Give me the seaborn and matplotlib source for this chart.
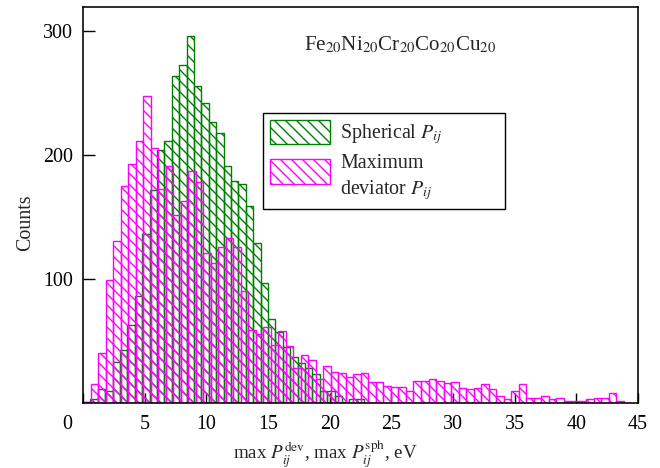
import numpy as np
import pandas as pd
import matplotlib
matplotlib.use("Agg")
import matplotlib.pyplot as plt
import matplotlib.transforms as mtransforms
from matplotlib.patches import Patch
from matplotlib.legend_handler import HandlerPatch
import seaborn as sns

# ---- data ----
sph_start = 0.0      # eV, left edge of first "spherical" bin
sph_width = 0.600    # eV, bin width
sph_counts = [1, 3, 11, 10, 33, 43, 63, 86, 136, 172,
              204, 211, 264, 273, 296, 256, 242, 227, 218, 191,
              179, 177, 159, 129, 97, 68, 57, 45, 37, 32,
              28, 23, 10, 10, 6, 1, 3, 3]

dev_start = 0.0
dev_width = 0.609
dev_counts = [1, 15, 40, 99, 131, 175, 193, 211, 248, 206,
              173, 191, 152, 163, 187, 178, 121, 113, 126, 133,
              126, 90, 59, 56, 61, 47, 58, 46, 28, 39,
              35, 19, 30, 25, 24, 21, 23, 24, 17, 17,
              14, 13, 13, 10, 18, 18, 19, 18, 16, 17,
              12, 11, 12, 15, 11, 6, 3, 10, 15, 4,
              4, 6, 3, 4, 2, 2, 2, 3, 4, 4,
              8, 2]

x_ticks = [0, 5, 10, 15, 20, 25, 30, 35, 40, 45]
y_ticks = [100, 200, 300]
legend_labels = ["Spherical $P_{ij}$", "Maximum\ndeviator $P_{ij}$"]
title_text = "Fe$_{20}$Ni$_{20}$Cr$_{20}$Co$_{20}$Cu$_{20}$"
x_label = r"max $P_{ij}^{\mathrm{dev}}$, max $P_{ij}^{\mathrm{sph}}$, eV"
y_label = "Counts"

# ---- style ----
sns.set_theme(style="ticks")
plt.rcParams['font.family'] = ['Liberation Serif', 'DejaVu Serif']
plt.rcParams['mathtext.fontset'] = 'stix'
plt.rcParams['hatch.linewidth'] = 1.5

DPI = 66
PT = 72.0 / DPI          # points per pixel
fs = 20 * PT
GREEN = '#008000'
MAGENTA = '#ff00ff'
HATCH = '\\\\'

fig = plt.figure(figsize=(660 / DPI, 468 / DPI), dpi=DPI)
ax = fig.add_axes([83 / 660, 65 / 468, 555 / 660, 396 / 468])

sph_edges = [sph_start + sph_width * i for i in range(len(sph_counts) + 1)]
dev_edges = [dev_start + dev_width * i for i in range(len(dev_counts) + 1)]
sph_df = pd.DataFrame({'energy': [e + sph_width / 2 for e in sph_edges[:-1]],
                       'count': sph_counts})
dev_df = pd.DataFrame({'energy': [e + dev_width / 2 for e in dev_edges[:-1]],
                       'count': dev_counts})

sns.histplot(data=sph_df, x='energy', weights='count', bins=sph_edges,
             element='bars', fill=False, color=GREEN, hatch=HATCH,
             linewidth=1.4 * PT, ax=ax)
sns.histplot(data=dev_df, x='energy', weights='count', bins=dev_edges,
             element='bars', fill=False, color=MAGENTA, hatch=HATCH,
             linewidth=1.4 * PT, ax=ax)

ax.set_xlim(0, 45)
ax.set_ylim(0, 319.5)
ax.set_xticks(x_ticks)
ax.set_yticks(y_ticks)
ax.set_xticklabels([str(t) for t in x_ticks])
ax.tick_params(axis='both', direction='in', width=1.4 * PT, labelsize=fs,
               colors='black', top=False, right=False)
ax.tick_params(axis='x', length=10 * PT, pad=12 * PT)
ax.tick_params(axis='y', length=12 * PT, pad=10 * PT)
for s in ax.spines.values():
    s.set_linewidth(1.6 * PT)
    s.set_color('black')

# shift the "0" x label left, as in the reference
lab0 = ax.get_xticklabels()[0]
lab0.set_transform(lab0.get_transform() +
                   mtransforms.ScaledTranslation(-16 / DPI, 0, fig.dpi_scale_trans))

ax.set_xlabel(x_label, fontsize=19 * PT)
ax.xaxis.set_label_coords(0.436, -0.089)
ax.set_ylabel(y_label, fontsize=fs)
ax.yaxis.set_label_coords(-0.087, 0.455)

ax.text(0.571, 0.904, title_text, transform=ax.transAxes, ha='center',
        va='center', fontsize=21 * PT)


class RaisedPatch(HandlerPatch):
    """Patch handler that lifts the patch to sit beside the first text line."""
    def __init__(self, lift, **kw):
        super().__init__(**kw)
        self.lift = lift

    def create_artists(self, legend, orig_handle, xdescent, ydescent,
                       width, height, fontsize, trans):
        return super().create_artists(legend, orig_handle, xdescent,
                                      ydescent - self.lift, width, height,
                                      fontsize, trans)


h_sph = Patch(facecolor='none', edgecolor=GREEN, hatch=HATCH, linewidth=1.4 * PT,
              label=legend_labels[0])
h_dev = Patch(facecolor='none', edgecolor=MAGENTA, hatch=HATCH, linewidth=1.4 * PT,
              label=legend_labels[1])
x0 = (263 - 83) / 555
w = (505 - 263) / 555
ytop = (403 - 113) / 396
leg = ax.legend(handles=[h_sph, h_dev], loc='upper left',
                bbox_to_anchor=(x0, ytop, w, 0), mode='expand',
                borderaxespad=0, fancybox=False, edgecolor='black', framealpha=1,
                fontsize=fs, handlelength=3.0, handleheight=1.5,
                handletextpad=0.5, borderpad=0.35, labelspacing=0.38,
                handler_map={h_dev: RaisedPatch(lift=7 * PT)})
leg.get_frame().set_linewidth(1.4 * PT)
for t in leg.get_texts():
    t.set_linespacing(1.3)

fig.savefig('out.png', dpi=DPI)
